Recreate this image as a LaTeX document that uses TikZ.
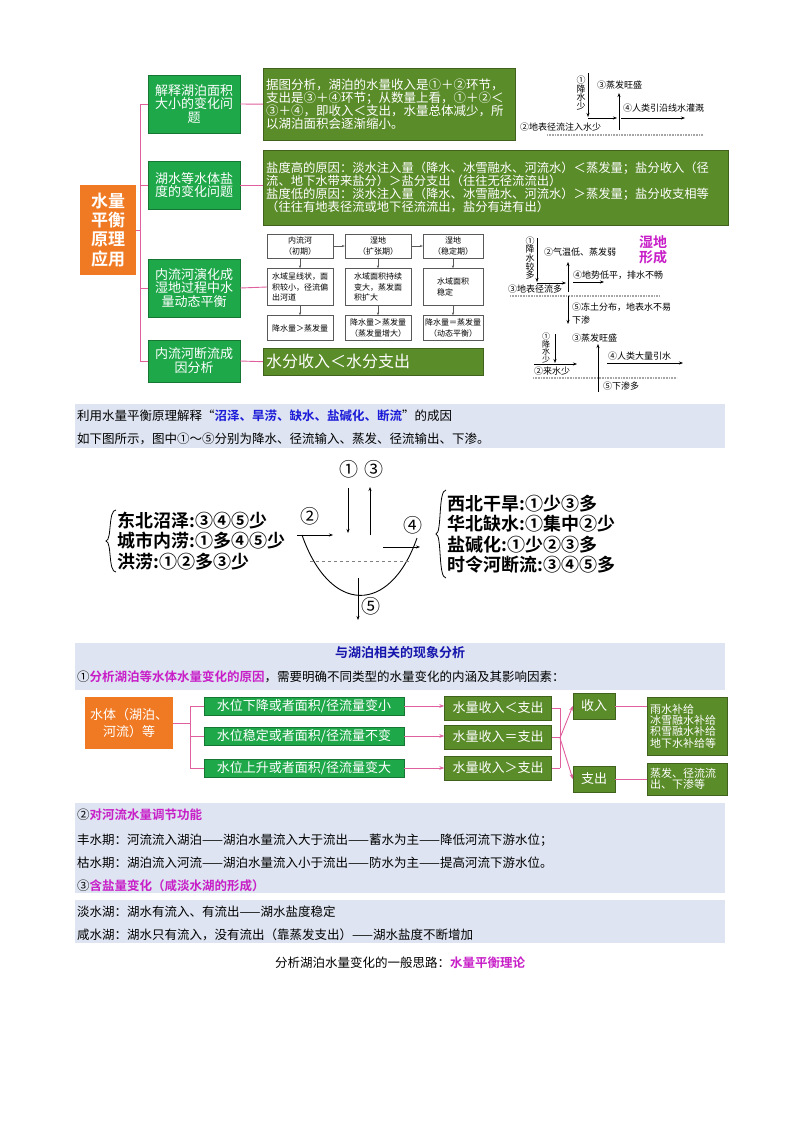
\documentclass[tikz,border=0pt]{standalone}
\usepackage{fontspec}
\setmainfont{Noto Sans CJK SC}
\newfontfamily\cjkb{Noto Sans CJK SC Bold}
\usetikzlibrary{arrows.meta}
\definecolor{brg}{HTML}{1FA84A}
\definecolor{olv}{HTML}{5B8C2A}
\definecolor{org}{HTML}{F07A24}
\definecolor{pnk}{HTML}{E0609E}
\definecolor{band}{HTML}{DEE4F1}
\definecolor{blu}{HTML}{1A1AD8}
\definecolor{mag}{HTML}{C81EC8}
\newcommand{\fs}[1]{\fontsize{#1pt}{1.3\dimexpr #1pt\relax}\selectfont}
\tikzset{
  gbox/.style={fill=brg,draw=brg!70!black,text=white,align=center,inner sep=2pt,font=\fs{13}},
  obox/.style={fill=olv,draw=olv!70!black,text=white,align=left,inner sep=3pt},
  wbox/.style={draw=gray!70!black,fill=white,align=center,font=\fs{8},inner sep=1pt},
  txt/.style={anchor=west,inner sep=0pt},
  pk/.style={draw=pnk,line width=0.9pt},
  pka/.style={pk,-{Stealth[length=5pt]}},
  ar/.style={-{Stealth[length=4pt]},line width=0.6pt},
  gnd/.style={line width=1.6pt,gray!70,dash pattern=on 1pt off 0.6pt},
}
\begin{document}
\begin{tikzpicture}[x=1pt,y=-1pt]
\useasboundingbox (0,0) rectangle (800,1132);
\fill[white] (0,0) rectangle (800,1132);
% ---------- top mind map ----------
\node[fill=org,text=white,font=\cjkb\fs{17},align=center,inner sep=3pt,minimum width=56,minimum height=90] (root) at (108,230) {水量\\[-3pt]平衡\\[-3pt]原理\\[-3pt]应用};
\coordinate (sp) at (140,230);
\draw[pk] (root.east) -- (sp);
\draw[pk] (140,104) -- (140,361);
\node[gbox,minimum width=92,minimum height=58] (g1) at (194,104) {解释湖泊面积\\[-3pt]大小的变化问\\[-3pt]题};
\node[gbox,minimum width=92,minimum height=48] (g2) at (194,185) {湖水等水体盐\\[-3pt]度的变化问题};
\node[gbox,minimum width=92,minimum height=58] (g3) at (194,288) {内流河演化成\\[-3pt]湿地过程中水\\[-3pt]量动态平衡};
\node[gbox,minimum width=92,minimum height=42] (g4) at (194,361) {内流河断流成\\[-3pt]因分析};
\foreach \g in {g1,g2,g3,g4}{\draw[pk] (140,0|-\g.west) -- (\g.west);}
\node[obox,text width=246pt,minimum height=72,font=\fs{12.5},anchor=north west] (t1) at (263,68) {据图分析，湖泊的水量收入是①＋②环节，\\[-3pt]支出是③＋④环节；从数量上看，①＋②＜\\[-3pt]③＋④，即收入＜支出，水量总体减少，所\\[-3pt]以湖泊面积会逐渐缩小。};
\node[obox,text width=459pt,minimum height=75,font=\fs{12.3},anchor=north west] (t2) at (263,150) {盐度高的原因：淡水注入量（降水、冰雪融水、河流水）＜蒸发量；盐分收入（径\\[-3pt]流、地下水带来盐分）＞盐分支出（往往无径流流出）\\[-3pt]盐度低的原因：淡水注入量（降水、冰雪融水、河流水）＞蒸发量；盐分收支相等\\[-3pt]（往往有地表径流或地下径流流出，盐分有进有出）};
\node[obox,text width=214pt,minimum height=27,font=\fs{16},anchor=north west] (t4) at (263,348) {水分收入＜水分支出};
\draw[pk] (g1.east) -- (t1.west);
\draw[pk] (g2.east) -- (t2.west|-g2.east);
\draw[pk] (g4.east) -- (t4.west);
% flowchart
\node[wbox,minimum width=66,minimum height=24] (a1) at (300,246) {内流河\\（初期）};
\node[wbox,minimum width=66,minimum height=24] (b1) at (378,246) {湿地\\（扩张期）};
\node[wbox,minimum width=60,minimum height=24] (c1) at (453,246) {湿地\\（稳定期）};
\node[wbox,minimum width=66,minimum height=37,align=left] (a2) at (300,287) {水域呈线状，面\\积较小，径流偏\\出河道};
\node[wbox,minimum width=66,minimum height=37,align=left] (b2) at (378,287) {水域面积持续\\变大，蒸发面\\积扩大};
\node[wbox,minimum width=60,minimum height=37,align=left] (c2) at (453,287) {水域面积\\稳定};
\node[wbox,minimum width=66,minimum height=25] (a3) at (300,328) {降水量＞蒸发量};
\node[wbox,minimum width=66,minimum height=25] (b3) at (378,328) {降水量＞蒸发量\\（蒸发量增大）};
\node[wbox,minimum width=60,minimum height=25] (c3) at (453,328) {降水量＝蒸发量\\（动态平衡）};
\draw[pk] (g3.east) -- (a2.west);
\foreach \p/\q in {a1/a2,b1/b2,c1/c2}{\draw[gray!70!black,-{Stealth[length=3pt]}] (\p) -- (\q);}
\foreach \p/\q in {a2/a3,b2/b3,c2/c3}{\draw[gray!70!black,-{Stealth[length=3pt]}] (\p) -- (\q);}
\draw[gray!70!black,-{Stealth[length=3pt]}] (a1) -- (b1);
\draw[gray!70!black,-{Stealth[length=3pt]}] (b1) -- (c1);
% small diagram 1
\node[font=\fs{9},align=center,inner sep=0] (d1a) at (581,93) {①\\[-3pt]降\\[-3pt]水\\[-3pt]少};
\draw[ar] (588,73) -- (588,117);
\node[txt,font=\fs{9}] (d1c) at (597,85) {③蒸发旺盛};
\draw[ar] (619,130) -- (619,93);
\node[txt,font=\fs{9}] (d1d) at (623,108) {④人类引沿线水灌溉};
\draw[ar] (621,118) -- (685,118);
\draw[ar] (588,118) -- (617,118);
\node[txt,font=\fs{9}] (d1b) at (520,127) {②地表径流注入水少};
\draw[gnd] (547,135) -- (703,135);
% small diagram 2
\node[font=\fs{9},align=center,inner sep=0] (d2a) at (530,258) {①\\[-3pt]降\\[-3pt]水\\[-3pt]较\\[-3pt]多};
\draw[ar] (537,238) -- (537,282);
\node[txt,font=\fs{9}] (d2b) at (544,252) {②气温低、蒸发弱};
\draw[ar] (568,292) -- (568,262);
\node[font=\cjkb\fs{14},text=mag,align=center,inner sep=0] (wl) at (653,250) {湿地\\[-3pt]形成};
\node[txt,font=\fs{9}] (d2d) at (573,275) {④地势低平，排水不畅};
\draw[ar] (573,282) -- (604,282);
\draw[ar] (537,283) -- (566,283);
\node[txt,font=\fs{9}] (d2c) at (508,289) {③地表径流多};
\draw[gnd] (510,296) -- (660,296);
\draw[ar] (568,296) -- (568,324);
\node[txt,font=\fs{9}] (d2e) at (572,307) {⑤冻土分布，地表水不易};
\node[txt,font=\fs{9}] (d2f) at (572,320) {下渗};
% small diagram 3
\node[font=\fs{8},align=center,inner sep=0] (d3a) at (546,348) {①\\[-3pt]降\\[-3pt]水\\[-3pt]少};
\draw[ar] (555,334) -- (555,363);
\node[txt,font=\fs{9}] (d3c) at (572,338) {③蒸发旺盛};
\draw[ar] (598,392) -- (598,344);
\node[txt,font=\fs{9}] (d3d) at (608,356) {④人类大量引水};
\draw[ar] (607,363) -- (683,363);
\draw[ar] (534,364) -- (577,364);
\node[txt,font=\fs{9}] (d3b) at (534,371) {②来水少};
\draw[gnd] (533,378) -- (677,378);
\node[txt,font=\fs{9}] (d3e) at (603,386) {⑤下渗多};
% ---------- band 1 ----------
\fill[band] (75,404) rectangle (725,448);
\node[txt,font=\fs{12.5}] (l1) at (77,416) {利用水量平衡原理解释“{\cjkb\color{blu}沼泽、旱涝、缺水、盐碱化、断流}”的成因};
\node[txt,font=\fs{12.5}] (l2) at (77,439) {如下图所示，图中①～⑤分别为降水、径流输入、蒸发、径流输出、下渗。};
% ---------- lake diagram ----------
\draw[line width=0.9pt] (302,535) .. controls (330,615) and (390,615) .. (417,538);
\draw[dashed,gray,line width=0.8pt] (310,561) -- (412,561);
\draw[ar,line width=0.9pt] (297,535) -- (333,535);
\draw[ar,line width=0.9pt] (348,488) -- (348,533);
\draw[ar,line width=0.9pt] (370,535) -- (370,487);
\draw[ar,line width=0.9pt] (383,547) -- (420,547);
\draw[ar,line width=0.9pt] (358,578) -- (358,620);
\node[font=\fs{19}] (n1) at (349,469) {①};
\node[font=\fs{19}] (n3) at (374,469) {③};
\node[font=\fs{19}] (n2) at (310,516) {②};
\node[font=\fs{19}] (n4) at (413,525) {④};
\node[font=\fs{19}] (n5) at (371,606) {⑤};
\node[anchor=west,align=left,font=\cjkb\fs{18},inner sep=0] (lb) at (117,541) {东北沼泽:③④⑤少\\[-3pt]城市内涝:①多④⑤少\\[-3pt]洪涝:①②多③少};
\draw[line width=0.8pt] (116,510) .. controls (108,510) and (112,540) .. (106,541) .. controls (112,542) and (108,572) .. (116,572);
\node[anchor=west,align=left,font=\cjkb\fs{18},inner sep=0] (rb) at (447,534) {西北干旱:①少③多\\[-3pt]华北缺水:①集中②少\\[-3pt]盐碱化:①少②③多\\[-3pt]时令河断流:③④⑤多};
\draw[line width=0.8pt] (446,490) .. controls (438,490) and (442,533) .. (436,534) .. controls (442,535) and (438,578) .. (446,578);
% ---------- band 2 ----------
\fill[band] (75,643) rectangle (725,690);
\node[font=\cjkb\fs{13},text=blu!80!black,inner sep=0] (tt) at (400,653) {与湖泊相关的现象分析};
\node[txt,font=\fs{12.5}] (l3) at (77,677) {①{\cjkb\color{mag}分析湖泊等水体水量变化的原因}，需要明确不同类型的水量变化的内涵及其影响因素：};
% ---------- flow ----------
\node[fill=org,text=white,font=\fs{13},align=center,minimum width=88,minimum height=52] (wb) at (129,723) {水体（湖泊、\\河流）等};
\node[gbox,minimum width=200,minimum height=18,font=\fs{13}] (h1) at (304,706) {水位下降或者面积/径流量变小};
\node[gbox,minimum width=200,minimum height=18,font=\fs{13}] (h2) at (304,736) {水位稳定或者面积/径流量不变};
\node[gbox,minimum width=200,minimum height=18,font=\fs{13}] (h3) at (304,768) {水位上升或者面积/径流量变大};
\node[obox,align=center,minimum width=107,minimum height=24,font=\fs{13}] (o1) at (498,708) {水量收入＜支出};
\node[obox,align=center,minimum width=107,minimum height=24,font=\fs{13}] (o2) at (498,737) {水量收入＝支出};
\node[obox,align=center,minimum width=107,minimum height=24,font=\fs{13}] (o3) at (498,768) {水量收入＞支出};
\node[obox,align=center,minimum width=42,minimum height=26,font=\fs{13}] (sr) at (594,706) {收入};
\node[obox,align=center,minimum width=42,minimum height=26,font=\fs{13}] (zc) at (594,779) {支出};
\node[obox,text width=74pt,minimum height=58,font=\fs{11}] (r1) at (687,726) {雨水补给\\[-3pt]冰雪融水补给\\[-3pt]积雪融水补给\\[-3pt]地下水补给等};
\node[obox,text width=74pt,minimum height=32,font=\fs{11}] (r2) at (687,779) {蒸发、径流流\\[-3pt]出、下渗等};
\coordinate (wj) at (190,723);
\draw[pk] (wb.east) -- (wj);
\draw[pk] (190,706) -- (190,768);
\foreach \h in {h1,h2,h3}{\draw[pk] (190,0|-\h.west) -- (\h.west);}
\foreach \h/\o in {h1/o1,h2/o2,h3/o3}{\draw[pka] (\h.east) -- (\o.west|-\h.east);}
\coordinate (oj) at (560,738);
\foreach \o in {o1,o2,o3}{\draw[pk] (\o.east) -- (560,0|-\o.east);}
\draw[pk] (560,708) -- (560,768);
\draw[pka] (oj) -- (sr.west);
\draw[pka] (oj) -- (zc.west);
\draw[pk] (sr.east) -- (r1.west|-sr.east);
\draw[pk] (zc.east) -- (r2.west);
% ---------- band 3, 4 ----------
\fill[band] (75,803) rectangle (725,893);
\node[txt,font=\fs{12.5}] (l4) at (77,815) {②{\cjkb\color{mag}对河流水量调节功能}};
\node[txt,font=\fs{12.5}] (l5) at (77,840) {丰水期：河流流入湖泊——湖泊水量流入大于流出——蓄水为主——降低河流下游水位；};
\node[txt,font=\fs{12.5}] (l6) at (77,863) {枯水期：湖泊流入河流——湖泊水量流入小于流出——防水为主——提高河流下游水位。};
\node[txt,font=\fs{12.5}] (l7) at (77,886) {③{\cjkb\color{mag}含盐量变化（咸淡水湖的形成）}};
\fill[band] (75,900) rectangle (725,943);
\node[txt,font=\fs{12.5}] (l8) at (77,912) {淡水湖：湖水有流入、有流出——湖水盐度稳定};
\node[txt,font=\fs{12.5}] (l9) at (77,935) {咸水湖：湖水只有流入，没有流出（靠蒸发支出）——湖水盐度不断增加};
\node[font=\fs{12.5},inner sep=0] (l10) at (400,963) {分析湖泊水量变化的一般思路：{\cjkb\color{mag}水量平衡理论}};
\end{tikzpicture}
\end{document}
